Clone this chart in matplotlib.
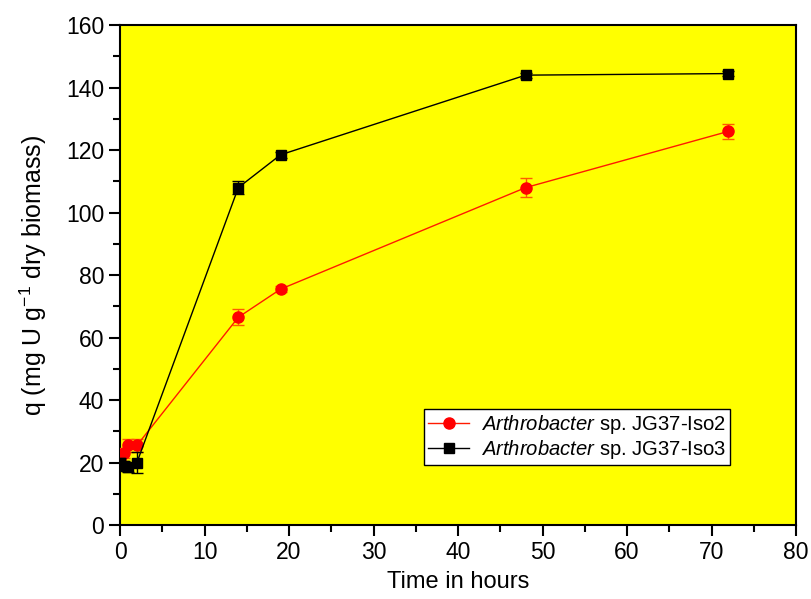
import numpy as np
from matplotlib import pyplot as plt
from matplotlib.ticker import MultipleLocator
from matplotlib.lines import Line2D

plt.rcParams['font.family'] = ['Liberation Sans', 'DejaVu Sans']
plt.rcParams['mathtext.fontset'] = 'custom'
plt.rcParams['mathtext.rm'] = 'Liberation Sans'
plt.rcParams['mathtext.it'] = 'Liberation Sans:italic'

# data
time_h = [0, 0.5, 1, 2, 14, 19, 48, 72]
q_iso2 = [21, 23, 25.5, 25.5, 66.5, 75.5, 108, 126]
err_iso2 = [1.5, 1.5, 2.0, 2.0, 2.5, 1.0, 3.0, 2.5]
q_iso3 = [20, 19, 18.5, 20, 108, 118.5, 144, 144.5]
err_iso3 = [1.5, 1.5, 1.5, 3.5, 2.0, 1.0, 0.8, 0.8]

xticks = [0, 10, 20, 30, 40, 50, 60, 70, 80]
yticks = [0, 20, 40, 60, 80, 100, 120, 140, 160]

fig = plt.figure(figsize=(8.11, 5.99), dpi=100)
ax = fig.add_axes([0.148, 0.1235, 0.8335, 0.8345])
ax.set_facecolor('#ffff00')

ax.errorbar(time_h, q_iso2, yerr=err_iso2, color='#ff1a00', ecolor='#ff5a00',
            marker='o', ms=8, mfc='red', mec='red', lw=1, elinewidth=1,
            capsize=4, capthick=1, zorder=3)
ax.errorbar(time_h, q_iso3, yerr=err_iso3, color='black', ecolor='black',
            marker='s', ms=7, mfc='black', mec='black', lw=1, elinewidth=1,
            capsize=4, capthick=1, zorder=4)

ax.set_xlim(0, 80)
ax.set_ylim(0, 160)
ax.set_xticks(xticks)
ax.set_yticks(yticks)
ax.xaxis.set_minor_locator(MultipleLocator(5))
ax.yaxis.set_minor_locator(MultipleLocator(10))
ax.tick_params(which='major', direction='out', length=8, width=1.5, labelsize=16.5,
               top=False, right=False)
ax.tick_params(which='minor', direction='out', length=5, width=1.5,
               top=False, right=False)
for s in ax.spines.values():
    s.set_linewidth(1.5)

ax.set_xlabel('Time in hours', fontsize=17, labelpad=5)
ax.set_ylabel(r'q (mg U g$^{\mathregular{-1}}$ dry biomass)', fontsize=18, labelpad=12)

h1 = Line2D([], [], color='#ff1a00', lw=1, marker='o', ms=8, mfc='red', mec='red')
h2 = Line2D([], [], color='black', lw=1, marker='s', ms=7, mfc='black', mec='black')
leg = ax.legend([h1, h2],
                [r'$\it{Arthrobacter}$ sp. JG37-Iso2', r'$\it{Arthrobacter}$ sp. JG37-Iso3'],
                loc='lower left', bbox_to_anchor=(0.45, 0.12), fontsize=14.6,
                fancybox=False, framealpha=1, edgecolor='black', handlelength=2.0,
                borderpad=0.2, labelspacing=0.1, handletextpad=0.6, borderaxespad=0)
leg.get_frame().set_linewidth(1)

plt.savefig('out.png', dpi=100)
